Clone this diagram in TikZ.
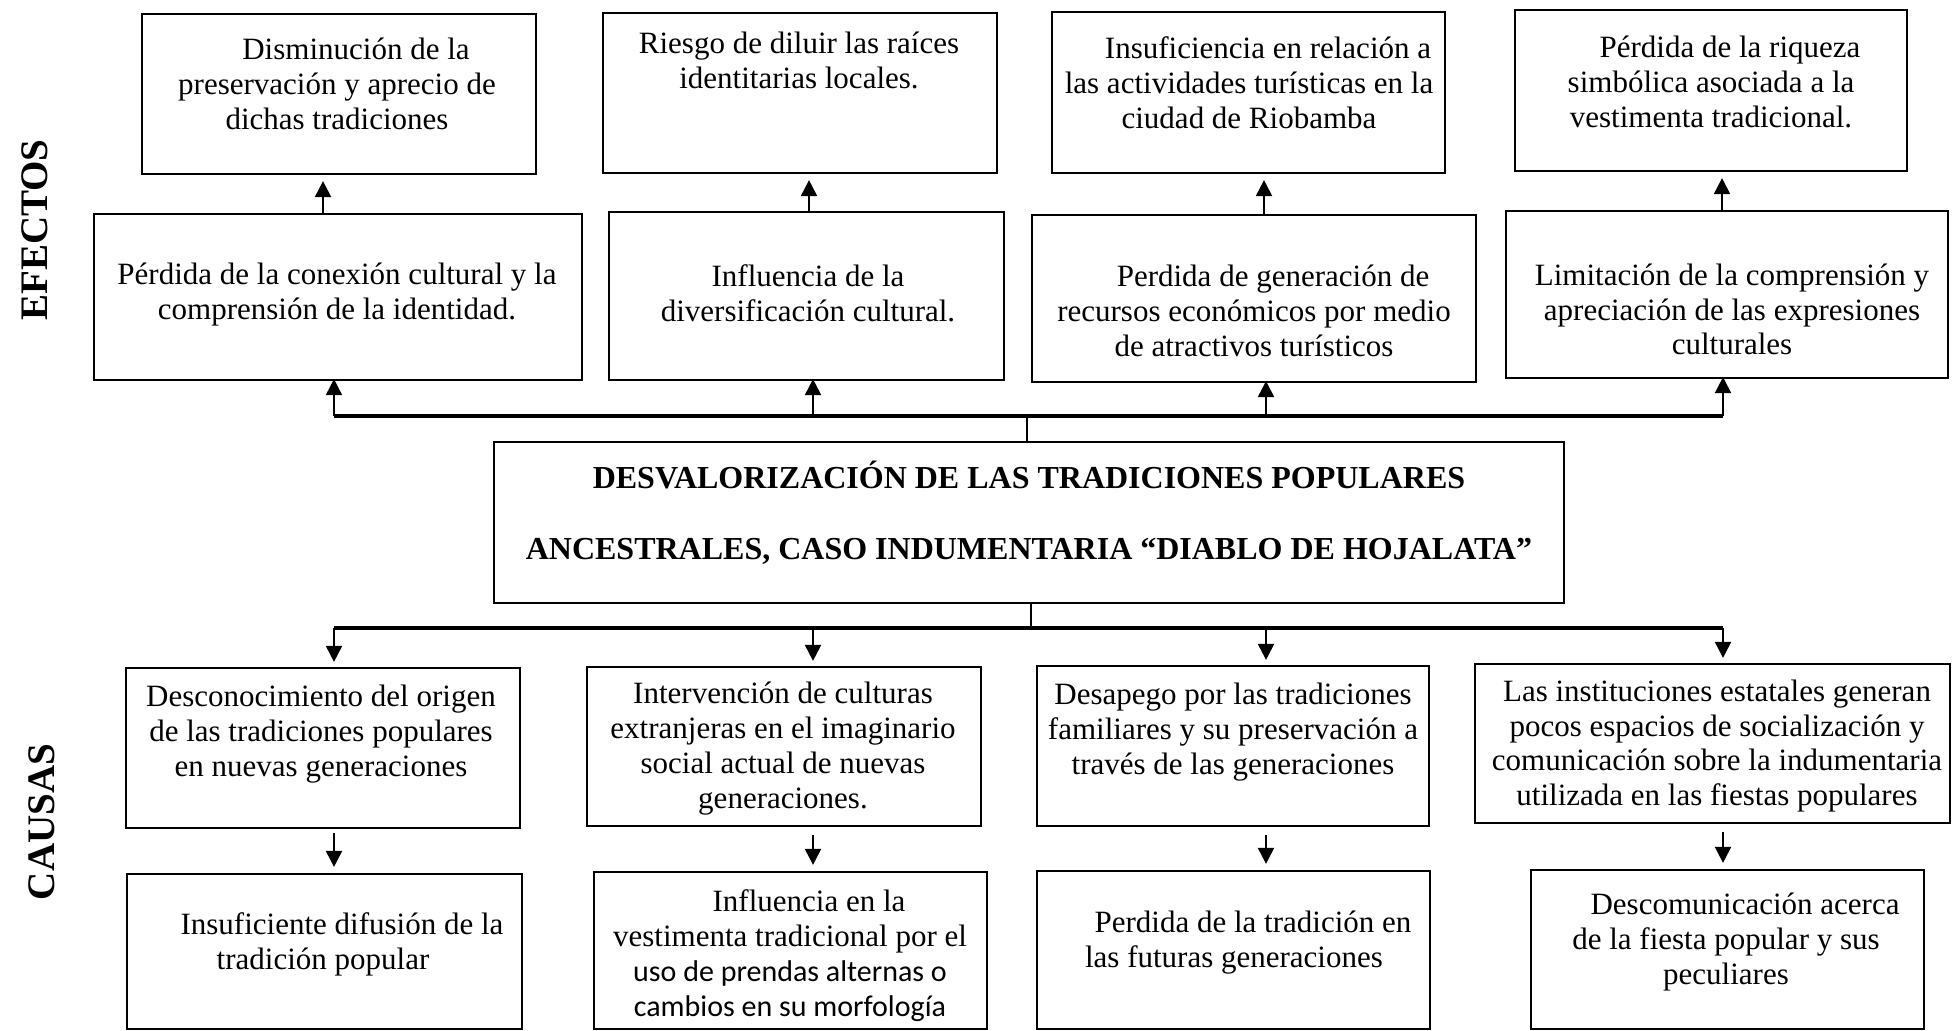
\documentclass[tikz,border=0pt]{standalone}
\usepackage{fontspec}
\setmainfont{Liberation Serif}
\newfontfamily\sansd{Carlito}
\usetikzlibrary{calc,arrows.meta}

\newcommand{\sangria}{\hspace*{19pt}}

\begin{document}
\begin{tikzpicture}[x=0.5pt,y=-0.5pt,
    caja/.style={draw=black, line width=1.1pt, inner sep=0pt},
    texto/.style={align=center, inner sep=0pt, font=\fontsize{15.5pt}{17.4pt}\selectfont},
    titulo/.style={align=center, inner sep=0pt, font=\bfseries\fontsize{16pt}{35.5pt}\selectfont},
    lado/.style={rotate=90, inner sep=0pt, font=\bfseries\fontsize{19.5pt}{22pt}\selectfont},
    flecha/.style={-{Triangle[length=8pt,width=8pt]}, line width=1pt},
    barra/.style={line width=2pt},
    enlace/.style={line width=1.2pt}]

    \useasboundingbox (0,0) rectangle (1952,1031);

    % Columns of the arrows
    \coordinate (k1) at (334,0);
    \coordinate (k2) at (813,0);
    \coordinate (k3) at (1266,0);
    \coordinate (k4) at (1723,0);
    \coordinate (u1) at (323,0);
    \coordinate (u2) at (809,0);
    \coordinate (u3) at (1264,0);
    \coordinate (u4) at (1722,0);

    % Side labels
    \node[lado] (efectos) at (35,230) {EFECTOS};
    \node[lado] (causas) at (42,822) {CAUSAS};

    % Effects, upper row
    \node[caja, minimum width=197pt, minimum height=80pt] (e1) at (339,94) {};
    \node[caja, minimum width=197pt, minimum height=80pt] (e2) at (800,93) {};
    \node[caja, minimum width=196.5pt, minimum height=80.5pt] (e3) at (1248.5,92.5) {};
    \node[caja, minimum width=196pt, minimum height=80.5pt] (e4) at (1711,90.5) {};
    \node[texto] (e1t) at (337,84) {\sangria Disminución de la\\preservación y aprecio de\\dichas tradiciones};
    \node[texto] (e2t) at (799,60.5) {Riesgo de diluir las raíces\\identitarias locales.};
    \node[texto] (e3t) at (1249,82.5) {\sangria Insuficiencia en relación a\\las actividades turísticas en la\\ciudad de Riobamba};
    \node[texto] (e4t) at (1711,82) {\sangria Pérdida de la riqueza\\simbólica asociada a la\\vestimenta tradicional.};

    % Effects, lower row
    \node[caja, minimum width=244pt, minimum height=83pt] (p1) at (338,297) {};
    \node[caja, minimum width=197.5pt, minimum height=84pt] (p2) at (806.5,296) {};
    \node[caja, minimum width=222pt, minimum height=83.5pt] (p3) at (1254,298.5) {};
    \node[caja, minimum width=221pt, minimum height=83.5pt] (p4) at (1727,294.5) {};
    \node[texto] (p1t) at (337,294.5) {Pérdida de la conexión cultural y la\\comprensión de la identidad.};
    \node[texto] (p2t) at (808,293.5) {Influencia de la\\diversificación cultural.};
    \node[texto] (p3t) at (1254,311) {\sangria Perdida de generación de\\recursos económicos por medio\\de atractivos turísticos};
    \node[texto] (p4t) at (1732,309.5) {Limitación de la comprensión y\\apreciación de las expresiones\\culturales};

    % Central problem
    \node[caja, minimum width=535pt, minimum height=80.5pt] (m) at (1029,522.5) {};
    \node[titulo] (mt) at (1029,512.5) {DESVALORIZACIÓN DE LAS TRADICIONES POPULARES\\ANCESTRALES, CASO INDUMENTARIA “DIABLO DE HOJALATA”};

    % Causes, upper row
    \node[caja, minimum width=197pt, minimum height=80pt] (c1) at (323,748) {};
    \node[caja, minimum width=197pt, minimum height=79.5pt] (c2) at (784,746.5) {};
    \node[caja, minimum width=196pt, minimum height=80pt] (c3) at (1233,746) {};
    \node[caja, minimum width=237.5pt, minimum height=79.5pt] (c4) at (1712.5,743.5) {};
    \node[texto] (c1t) at (321,734) {Desconocimiento del origen\\de las tradiciones populares\\en nuevas generaciones};
    \node[texto] (c2t) at (783,748.5) {Intervención de culturas\\extranjeras en el imaginario\\social actual de nuevas\\generaciones.};
    \node[texto] (c3t) at (1233,732) {Desapego por las tradiciones\\familiares y su preservación a\\través de las generaciones};
    \node[texto] (c4t) at (1717,746) {Las instituciones estatales generan\\pocos espacios de socialización y\\comunicación sobre la indumentaria\\utilizada en las fiestas populares};

    % Causes, lower row
    \node[caja, minimum width=197.5pt, minimum height=77.5pt] (d1) at (324.5,951.5) {};
    \node[caja, minimum width=196.5pt, minimum height=78.5pt] (d2) at (790.5,950.5) {};
    \node[caja, minimum width=196.5pt, minimum height=79pt] (d3) at (1233.5,950) {};
    \node[caja, minimum width=196.5pt, minimum height=79.5pt] (d4) at (1727.5,949.5) {};
    \node[texto] (d1t) at (323,944.5) {\sangria Insuficiente difusión de la\\tradición popular};
    \node[texto] (d2t) at (790,955.5) {\sangria Influencia en la\\vestimenta tradicional por el\\{\sansd\fontsize{15pt}{17.4pt}\selectfont uso de prendas alternas o}\\{\sansd\fontsize{15pt}{17.4pt}\selectfont cambios en su morfología}};
    \node[texto] (d3t) at (1234,942.5) {\sangria Perdida de la tradición en\\las futuras generaciones};
    \node[texto] (d4t) at (1726,942) {\sangria Descomunicación acerca\\de la fiesta popular y sus\\peculiares};

    % Upper bar and arrows to the effects
    \coordinate (bs) at (1027,416);
    \draw[enlace] (m.north -| bs) -- (bs);
    \draw[barra] (bs -| k1) -- (bs -| k4);
    \draw[flecha, shorten >=-1pt] (bs -| k1) -- (k1 |- p1.south);
    \draw[flecha, shorten >=-1pt] (bs -| k2) -- (k2 |- p2.south);
    \draw[flecha, shorten >=-1pt] (bs -| k3) -- (k3 |- p3.south);
    \draw[flecha, shorten >=-1pt] (bs -| k4) -- (k4 |- p4.south);
    \draw[flecha, shorten >=3pt] (u1 |- p1.north) -- (u1 |- e1.south);
    \draw[flecha, shorten >=3pt] (u2 |- p2.north) -- (u2 |- e2.south);
    \draw[flecha, shorten >=3pt] (u3 |- p3.north) -- (u3 |- e3.south);
    \draw[flecha, shorten >=3pt] (u4 |- p4.north) -- (u4 |- e4.south);

    % Lower bar and arrows to the causes
    \coordinate (bi) at (1031,628);
    \draw[enlace] (m.south -| bi) -- (bi);
    \draw[barra] (bi -| k1) -- (bi -| k4);
    \draw[flecha, shorten >=2.5pt] (bi -| k1) -- (k1 |- c1.north);
    \draw[flecha, shorten >=2.5pt] (bi -| k2) -- (k2 |- c2.north);
    \draw[flecha, shorten >=2.5pt] (bi -| k3) -- (k3 |- c3.north);
    \draw[flecha, shorten >=2.5pt] (bi -| k4) -- (k4 |- c4.north);
    \draw[flecha, shorten <=2pt, shorten >=3pt] (k1 |- c1.south) -- (k1 |- d1.north);
    \draw[flecha, shorten <=4pt, shorten >=3pt] (k2 |- c2.south) -- (k2 |- d2.north);
    \draw[flecha, shorten <=4pt, shorten >=3pt] (k3 |- c3.south) -- (k3 |- d3.north);
    \draw[flecha, shorten <=4pt, shorten >=3pt] (k4 |- c4.south) -- (k4 |- d4.north);
\end{tikzpicture}
\end{document}
